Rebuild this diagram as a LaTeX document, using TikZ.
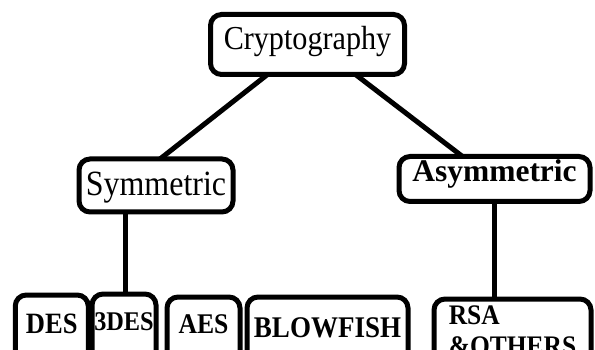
\documentclass[tikz,border=0pt]{standalone}
\usepackage{fontspec}
\setmainfont[FakeStretch=0.9]{Liberation Serif}
\newfontfamily\plainserif{Liberation Serif}
\begin{document}
\begin{tikzpicture}[x=1pt,y=-1pt,
  boxstyle/.style={draw=black,line width=5pt,rounded corners=11pt,fill=white,inner sep=0pt,outer sep=0pt},
  leafbox/.style={boxstyle,anchor=north,text depth=60pt},
  conn/.style={line width=5pt}]
\useasboundingbox (0,0) rectangle (595,350);
\node[boxstyle,minimum width=194pt,minimum height=60pt,text height=11pt,text depth=0pt] (crypto) at (307.5,44.5) {\fontsize{33.5}{36}\selectfont Cryptography};
\node[boxstyle,minimum width=154pt,minimum height=53pt,text height=20pt,text depth=0pt] (sym) at (156,185.5) {\fontsize{35.5}{37}\selectfont Symmetric};
\node[boxstyle,minimum width=191pt,minimum height=45pt,text height=6pt,text depth=0pt] (asym) at (494.5,179) {\plainserif\fontsize{31.5}{36}\selectfont\bfseries Asymmetric};
\node[leafbox,minimum width=73pt,text height=38pt] (des) at (51.75,295) {\fontsize{29.5}{30}\selectfont\bfseries DES};
\node[leafbox,minimum width=64pt,text height=36pt] (tdes) at (124,294) {\fontsize{27}{30}\selectfont\bfseries 3DES};
\node[leafbox,minimum width=73pt,text height=36pt] (aes) at (203.5,297) {\fontsize{28.5}{30}\selectfont\bfseries AES};
\node[leafbox,minimum width=161pt,text height=40pt] (blow) at (327.5,297) {\fontsize{30}{30}\selectfont\bfseries BLOWFISH};
\node[leafbox,minimum width=157pt,text height=25pt] (rsa) at (512.5,299) {\fontsize{28.3}{30}\selectfont\bfseries\vtop{\offinterlineskip\hbox{RSA}\vskip12pt\hbox{\&OTHERS}}};
\draw[conn] ([xshift=-40pt]crypto.south) -- ([xshift=4pt]sym.north);
\draw[conn] ([xshift=48pt]crypto.south) -- ([xshift=-32pt]asym.north);
\draw[conn] ([xshift=1.5pt]tdes.north |- sym.south) -- ([xshift=1.5pt]tdes.north);
\draw[conn] (asym.south) -- (asym.south |- rsa.north);
\end{tikzpicture}
\end{document}
